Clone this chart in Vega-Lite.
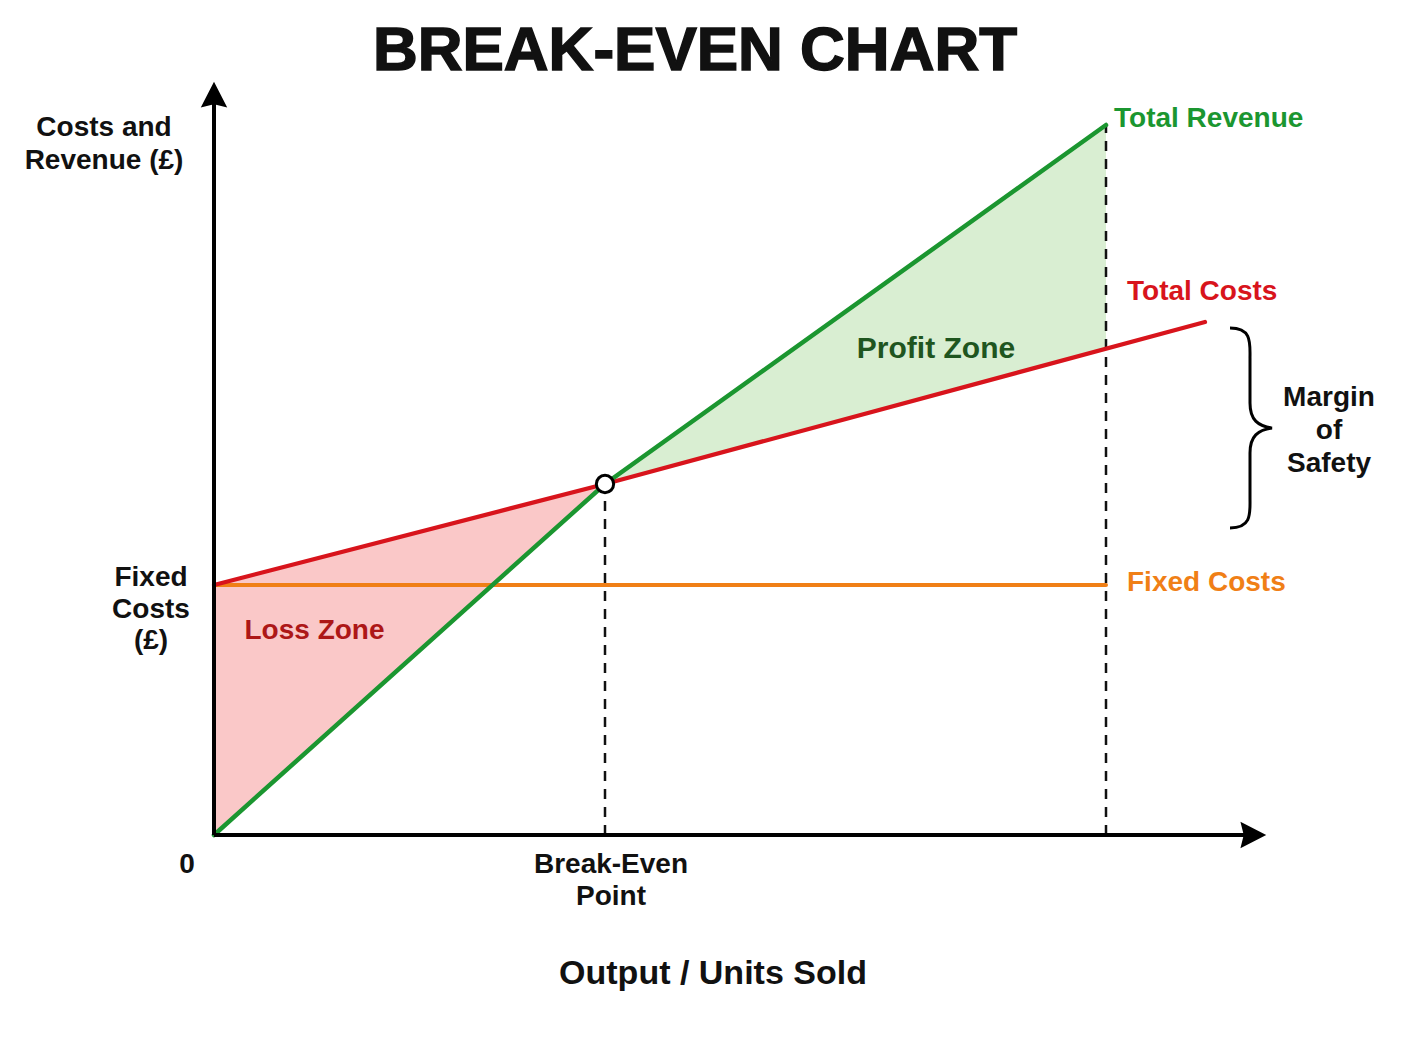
{
  "$schema": "https://vega.github.io/schema/vega-lite/v6.json",
  "autosize": {"type": "fit", "contains": "padding"},
  "width": 1408,
  "height": 1056,
  "padding": 0,
  "background": "white",
  "config": {"view": {"stroke": null}},
  "datasets": {
    "lines": [
      {"series": "Fixed Costs", "x": 0, "y": 25.0},
      {"series": "Fixed Costs", "x": 89.2, "y": 25.0},
      {"series": "Total Costs", "x": 0, "y": 25.0},
      {"series": "Total Costs", "x": 39.1, "y": 35.1},
      {"series": "Total Costs", "x": 99.1, "y": 51.3},
      {"series": "Total Revenue", "x": 0, "y": 0},
      {"series": "Total Revenue", "x": 39.1, "y": 35.1},
      {"series": "Total Revenue", "x": 89.2, "y": 71.0}
    ],
    "loss": [
      {"x": 0, "y": 0, "y2": 25.0},
      {"x": 39.1, "y": 35.1, "y2": 35.1}
    ],
    "profit": [
      {"x": 39.1, "y": 35.1, "y2": 35.1},
      {"x": 89.2, "y": 48.6, "y2": 71.0}
    ],
    "guides": [
      {"x": 39.1, "y": 0, "y2": 35.1},
      {"x": 89.2, "y": 0, "y2": 71.0}
    ],
    "axes": [
      {"x": 0, "y": 0, "x2": 0, "y2": 73.2},
      {"x": 0, "y": 0, "x2": 103.3, "y2": 0}
    ],
    "seriesLabels": [
      {"series": "Total Revenue", "x": 90.0, "y": 71.6},
      {"series": "Total Costs", "x": 91.3, "y": 54.3},
      {"series": "Fixed Costs", "x": 91.3, "y": 25.2}
    ],
    "blackLabels": [
      {"label": "Costs and", "x": -11.0, "y": 70.7},
      {"label": "Revenue (£)", "x": -11.0, "y": 67.4},
      {"label": "Fixed", "x": -6.3, "y": 25.7},
      {"label": "Costs", "x": -6.3, "y": 22.5},
      {"label": "(£)", "x": -6.3, "y": 19.4},
      {"label": "0", "x": -2.7, "y": -3.0},
      {"label": "Break-Even", "x": 39.7, "y": -3.0},
      {"label": "Point", "x": 39.7, "y": -6.2},
      {"label": "Margin", "x": 111.5, "y": 43.7},
      {"label": "of", "x": 111.5, "y": 40.4},
      {"label": "Safety", "x": 111.5, "y": 37.1}
    ]
  },
  "encoding": {
    "x": {"field": "x", "type": "quantitative", "axis": null, "scale": {"domain": [-21.4, 119.4], "nice": false, "zero": false}},
    "y": {"field": "y", "type": "quantitative", "axis": null, "scale": {"domain": [-22.1, 83.5], "nice": false, "zero": false}}
  },
  "layer": [
    {
      "data": {"name": "loss"},
      "mark": {"type": "area", "color": "#fac8c8", "opacity": 1},
      "encoding": {"y2": {"field": "y2"}}
    },
    {
      "data": {"name": "profit"},
      "mark": {"type": "area", "color": "#d9eed2", "opacity": 1},
      "encoding": {"y2": {"field": "y2"}}
    },
    {
      "data": {"name": "guides"},
      "mark": {"type": "rule", "color": "#111111", "strokeWidth": 2.5, "strokeDash": [10, 8]},
      "encoding": {"y2": {"field": "y2"}}
    },
    {
      "data": {"name": "lines"},
      "mark": {"type": "line", "strokeCap": "round"},
      "encoding": {
        "color": {"field": "series", "type": "nominal", "legend": null,
          "scale": {"domain": ["Total Revenue", "Total Costs", "Fixed Costs"], "range": ["#1b9630", "#d8141c", "#f07f16"]}},
        "strokeWidth": {"field": "series", "type": "nominal", "legend": null,
          "scale": {"domain": ["Total Revenue", "Total Costs", "Fixed Costs"], "range": [4.5, 4, 3]}},
        "order": {"field": "x", "type": "quantitative"}
      }
    },
    {
      "data": {"name": "axes"},
      "mark": {"type": "rule", "color": "#000000", "strokeWidth": 4},
      "encoding": {"x2": {"field": "x2"}, "y2": {"field": "y2"}}
    },
    {
      "data": {"values": [{"x": 0, "y": 74.0}]},
      "mark": {"type": "point", "shape": "M 0 -1 L 1 0.95 L 0 0.7 L -1 0.95 Z", "filled": true, "color": "#000000", "opacity": 1, "size": 700, "strokeWidth": 0}
    },
    {
      "data": {"values": [{"x": 103.9, "y": 0}]},
      "mark": {"type": "point", "shape": "M 1 0 L -0.95 1 L -0.7 0 L -0.95 -1 Z", "filled": true, "color": "#000000", "opacity": 1, "size": 700, "strokeWidth": 0}
    },
    {
      "data": {"values": [{"x": 39.1, "y": 35.1}]},
      "mark": {"type": "point", "shape": "circle", "filled": true, "fill": "#ffffff", "stroke": "#000000", "strokeWidth": 3, "opacity": 1, "size": 300}
    },
    {
      "data": {"values": [{"x": 103.6, "y": 40.7}]},
      "mark": {"type": "point", "shape": "M -0.2 -1 C 0.02 -1 0 -0.85 0 -0.7 L 0 -0.25 C 0 -0.08 0.08 -0.02 0.22 0 C 0.08 0.02 0 0.08 0 0.25 L 0 0.7 C 0 0.85 0.02 1 -0.2 1", "filled": false, "color": "#000000", "strokeWidth": 3, "opacity": 1, "size": 40000}
    },
    {
      "data": {"name": "seriesLabels"},
      "mark": {"type": "text", "align": "left", "baseline": "middle", "font": "Liberation Sans", "fontWeight": "bold", "fontSize": 28},
      "encoding": {
        "text": {"field": "series"},
        "color": {"field": "series", "type": "nominal", "legend": null,
          "scale": {"domain": ["Total Revenue", "Total Costs", "Fixed Costs"], "range": ["#1b9630", "#d8141c", "#f07f16"]}}
      }
    },
    {
      "data": {"values": [{"label": "Profit Zone", "x": 72.2, "y": 48.6}]},
      "mark": {"type": "text", "align": "center", "baseline": "middle", "font": "Liberation Sans", "fontWeight": "bold", "fontSize": 30, "color": "#1f551f"},
      "encoding": {"text": {"field": "label"}}
    },
    {
      "data": {"values": [{"label": "Loss Zone", "x": 10.05, "y": 20.4}]},
      "mark": {"type": "text", "align": "center", "baseline": "middle", "font": "Liberation Sans", "fontWeight": "bold", "fontSize": 28, "color": "#ad1717"},
      "encoding": {"text": {"field": "label"}}
    },
    {
      "data": {"name": "blackLabels"},
      "mark": {"type": "text", "align": "center", "baseline": "middle", "font": "Liberation Sans", "fontWeight": "bold", "fontSize": 28, "color": "#111111"},
      "encoding": {"text": {"field": "label"}}
    },
    {
      "data": {"values": [{"label": "Output / Units Sold", "x": 49.9, "y": -13.9}]},
      "mark": {"type": "text", "align": "center", "baseline": "middle", "font": "Liberation Sans", "fontWeight": "bold", "fontSize": 34, "color": "#111111"},
      "encoding": {"text": {"field": "label"}}
    },
    {
      "data": {"values": [{"label": "BREAK-EVEN CHART", "x": 48.1, "y": 78.45}]},
      "mark": {"type": "text", "align": "center", "baseline": "middle", "font": "Liberation Sans", "fontWeight": "bold", "fontSize": 62, "color": "#111111", "stroke": "#111111", "strokeWidth": 1.5},
      "encoding": {"text": {"field": "label"}}
    }
  ]
}
